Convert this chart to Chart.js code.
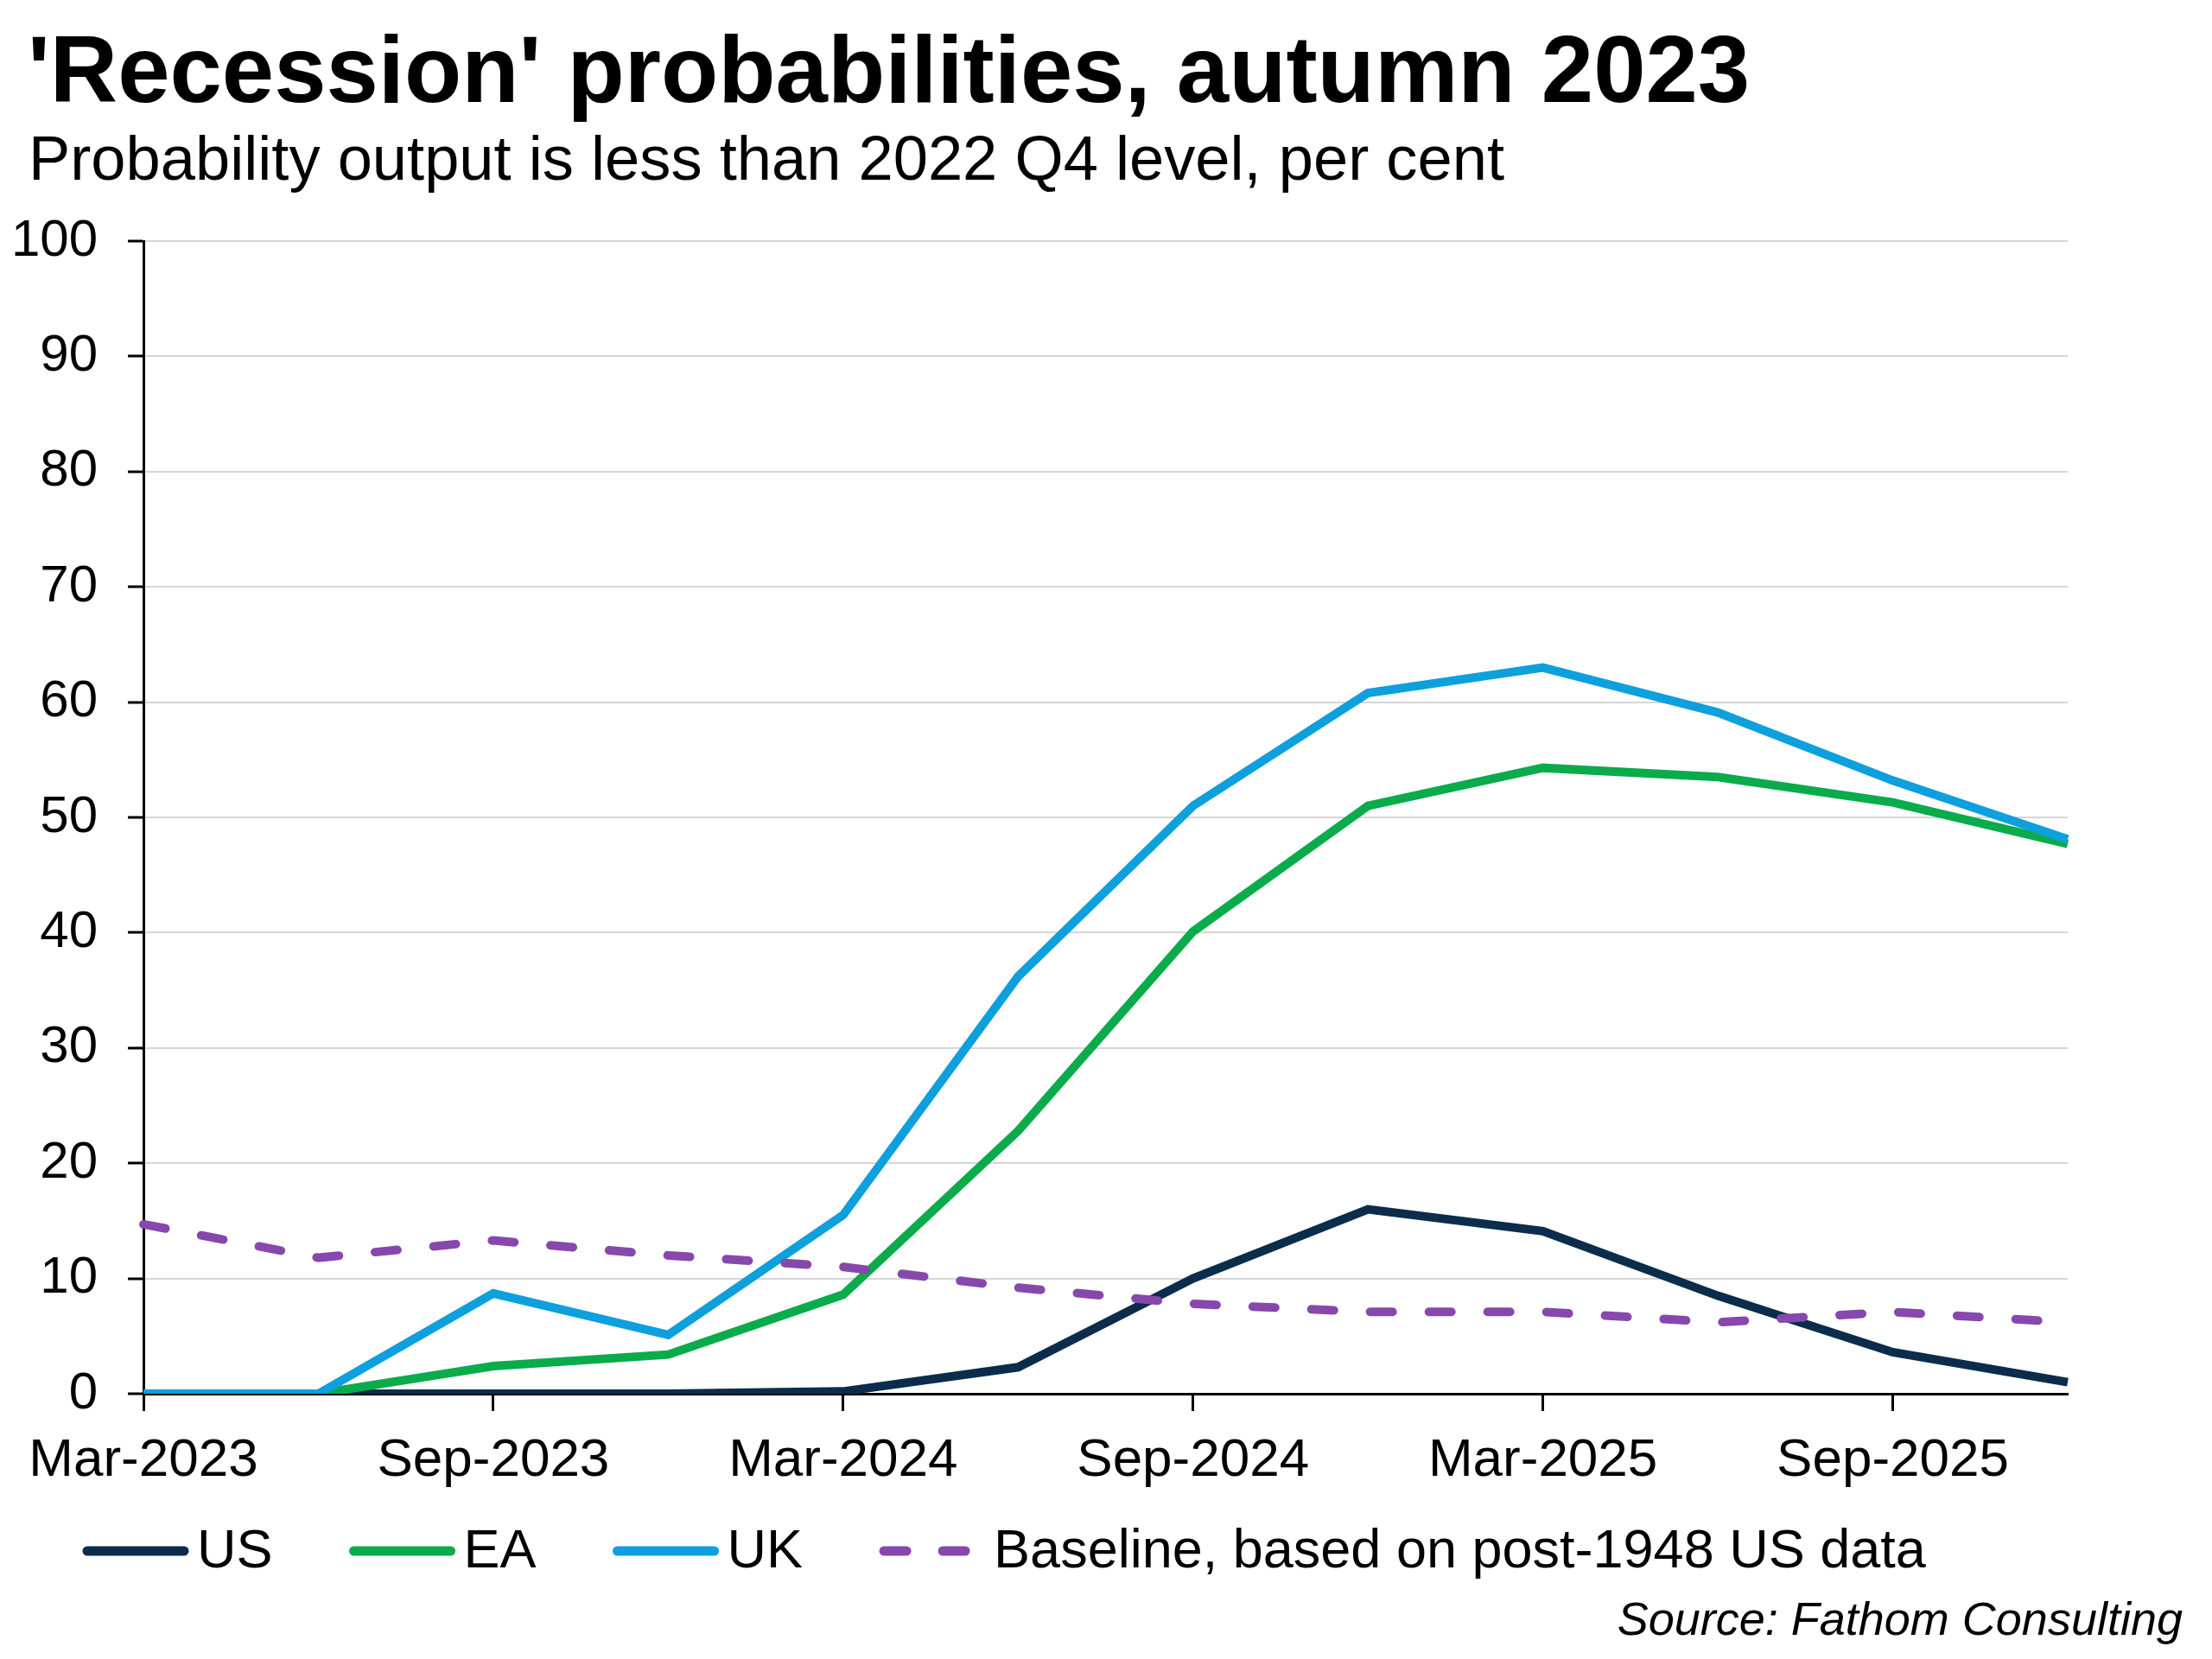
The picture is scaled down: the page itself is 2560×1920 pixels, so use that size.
<!DOCTYPE html>
<html>
<head>
<meta charset="utf-8">
<script src="https://cdn.jsdelivr.net/npm/chart.js"></script>
<style>
  html, body { margin: 0; padding: 0; background: #ffffff; }
  #wrap { position: relative; width: 2560px; height: 1920px; background: #ffffff; overflow: hidden; }
  #c { position: absolute; left: 0; top: 0; }
  .txt { position: absolute; font-family: "Liberation Sans", Arial, sans-serif; color: #000; white-space: nowrap; line-height: 1; }
  #title { left: 32px; top: 27px; font-size: 108.5px; font-weight: bold; }
  #subtitle { left: 33px; top: 147px; font-size: 72.3px; }
  #source { right: 34px; top: 1846px; font-size: 54px; font-style: italic; }
</style>
</head>
<body>
<div id="wrap">
  <canvas id="c" width="2560" height="1920"></canvas>
  <div id="title" class="txt">'Recession' probabilities, autumn 2023</div>
  <div id="subtitle" class="txt">Probability output is less than 2022 Q4 level, per cent</div>
  <div id="source" class="txt">Source: Fathom Consulting</div>
</div>
<script>
// ---- Data ----
const quarters = ['Mar-2023','Jun-2023','Sep-2023','Dec-2023','Mar-2024','Jun-2024','Sep-2024','Dec-2024','Mar-2025','Jun-2025','Sep-2025','Dec-2025'];
const seriesNames = ['US', 'EA', 'UK', 'Baseline, based on post-1948 US data'];
const usValues = [0, 0, 0, 0, 0.2, 2.3, 10.0, 16.0, 14.1, 8.5, 3.6, 1.0];
const eaValues = [0, 0, 2.4, 3.4, 8.6, 22.8, 40.1, 51.0, 54.3, 53.5, 51.3, 47.7];
const ukValues = [0, 0, 8.7, 5.1, 15.5, 36.2, 51.0, 60.8, 63.0, 59.1, 53.2, 48.1];
const baselineValues = [14.7, 11.8, 13.3, 12.0, 11.0, 9.2, 7.8, 7.1, 7.1, 6.2, 7.1, 6.2];
const yTicks = [0, 10, 20, 30, 40, 50, 60, 70, 80, 90, 100];

// ---- Styling ----
const FONT = '"Liberation Sans", Arial, sans-serif';
const colUS = '#0b2d4b';
const colEA = '#0aab4b';
const colUK = '#0e9fdd';
const colBase = '#8748ad';
const LW = 10;
const DASH = [26, 42];

Chart.defaults.font.family = FONT;
Chart.defaults.color = '#000';

// Custom legend drawn below the axis, reading names/styles from datasets
const bottomLegend = {
  id: 'bottomLegend',
  afterDraw(chart) {
    const ctx = chart.ctx;
    ctx.save();
    ctx.font = '63px ' + FONT;
    ctx.textBaseline = 'alphabetic';
    ctx.textAlign = 'left';
    const yLine = 1795, yText = 1814;
    let x = 101;
    chart.data.datasets.forEach(ds => {
      const len = 112;
      ctx.beginPath();
      ctx.lineWidth = 11;
      ctx.lineCap = 'round';
      ctx.strokeStyle = ds.borderColor;
      ctx.setLineDash(ds.borderDash || []);
      ctx.moveTo(x, yLine);
      ctx.lineTo(x + len, yLine);
      ctx.stroke();
      ctx.setLineDash([]);
      const tx = x + len + 15;
      ctx.fillStyle = '#000';
      ctx.fillText(ds.label, tx, yText);
      x = tx + ctx.measureText(ds.label).width + 94;
    });
    ctx.restore();
  }
};

new Chart(document.getElementById('c'), {
  type: 'line',
  data: {
    labels: quarters,
    datasets: [
      { label: seriesNames[0], data: usValues, borderColor: colUS, backgroundColor: colUS, borderWidth: LW, order: 3 },
      { label: seriesNames[1], data: eaValues, borderColor: colEA, backgroundColor: colEA, borderWidth: LW, order: 2 },
      { label: seriesNames[2], data: ukValues, borderColor: colUK, backgroundColor: colUK, borderWidth: LW, order: 1 },
      { label: seriesNames[3], data: baselineValues, borderColor: colBase, backgroundColor: colBase, borderWidth: LW, borderDash: DASH, borderCapStyle: 'round', order: 0 }
    ]
  },
  options: {
    responsive: false,
    animation: false,
    events: [],
    elements: { point: { radius: 0 }, line: { tension: 0, borderJoinStyle: 'miter' } },
    layout: { padding: { top: 279, right: 167, bottom: 187, left: 0 } },
    plugins: { legend: { display: false }, tooltip: { enabled: false }, title: { display: false } },
    scales: {
      x: {
        type: 'category',
        offset: false,
        grid: {
          display: true,
          drawOnChartArea: false,
          drawTicks: true,
          tickLength: 20,
          tickWidth: 3,
          tickColor: (c) => (c.index % 2 === 0 ? '#000' : 'rgba(0,0,0,0)')
        },
        border: { display: true, color: '#000', width: 3 },
        ticks: {
          autoSkip: false,
          maxRotation: 0,
          minRotation: 0,
          padding: 21,
          font: { size: 62, lineHeight: 1.2 },
          color: '#000',
          callback: (v, i) => (i % 2 === 0 ? quarters[i] : '')
        },
        afterFit: (s) => { s.height = 120; }
      },
      y: {
        min: 0,
        max: 100,
        afterBuildTicks: (s) => { s.ticks = yTicks.map(v => ({ value: v })); },
        grid: {
          color: '#d6d6d6',
          lineWidth: 2,
          drawTicks: true,
          tickLength: 18,
          tickWidth: 3,
          tickColor: '#000'
        },
        border: { display: true, color: '#000', width: 3 },
        ticks: {
          padding: 35,
          font: { size: 60 },
          color: '#000'
        },
        afterFit: (s) => { s.width = 166; }
      }
    }
  },
  plugins: [bottomLegend]
});
</script>
</body>
</html>
